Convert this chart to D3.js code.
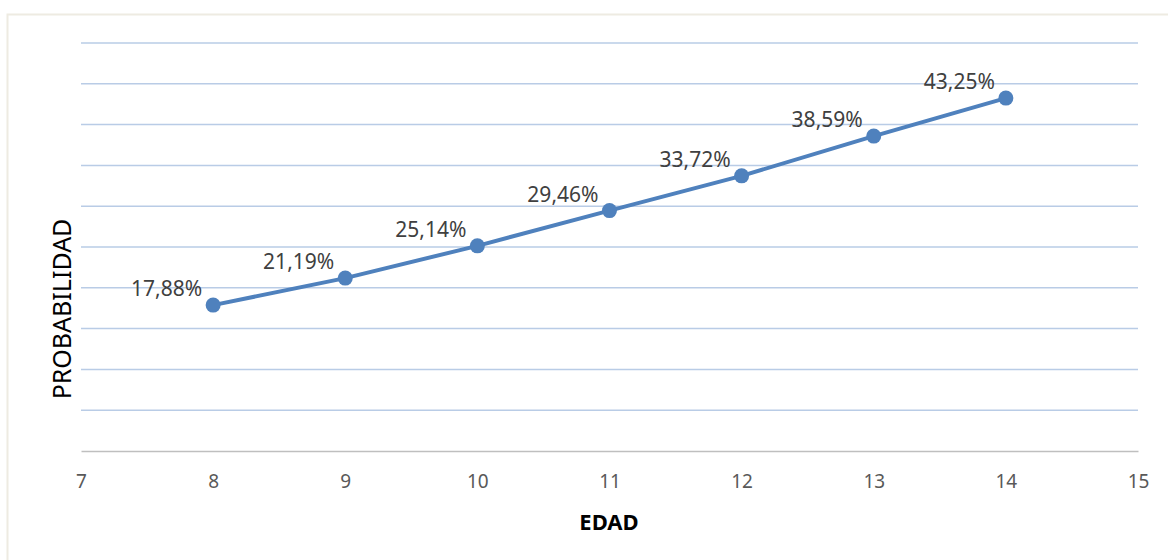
<!DOCTYPE html>
<html><head><meta charset="utf-8">
<script src="https://cdn.jsdelivr.net/npm/d3@7"></script>
<style>body{margin:0;background:#fff}svg{display:block}</style>
</head><body>
<script>
const ages = [8, 9, 10, 11, 12, 13, 14];
const probs = [0.1788, 0.2119, 0.2514, 0.2946, 0.3372, 0.3859, 0.4325];
const labels = ["17,88%", "21,19%", "25,14%", "29,46%", "33,72%", "38,59%", "43,25%"];
const xTicks = [7, 8, 9, 10, 11, 12, 13, 14, 15];
const yGrid = [0.05, 0.10, 0.15, 0.20, 0.25, 0.30, 0.35, 0.40, 0.45, 0.50];

const W = 1168, H = 560;
const svg = d3.select("body").append("svg").attr("width", W).attr("height", H);
const font = "'Noto Sans', 'Open Sans', sans-serif";

svg.append("rect").attr("x", 7.5).attr("y", 14.5).attr("width", W).attr("height", H)
  .attr("fill", "#fff").attr("stroke", "#EEEBE2").attr("stroke-width", 2);

const x = d3.scaleLinear().domain([7, 15]).range([81, 1138]);
const y = d3.scaleLinear().domain([0, 0.5]).range([451, 43]);

svg.append("g").selectAll("line").data(yGrid).join("line")
  .attr("x1", x(7)).attr("x2", x(15))
  .attr("y1", d => y(d)).attr("y2", d => y(d))
  .attr("stroke", "#B9CCE6").attr("stroke-width", 1.5);

const xAxis = svg.append("g").attr("transform", `translate(0,${y(0)})`)
  .call(d3.axisBottom(x).tickValues(xTicks).tickSize(0).tickPadding(24).tickFormat(d3.format("d")));
xAxis.select(".domain").attr("stroke", "#BFBFBF").attr("stroke-width", 1.5);
xAxis.selectAll("text").attr("fill", "#595959")
  .style("font-family", font).style("font-size", "19px");
xAxis.attr("font-family", null).attr("font-size", null);

const line = d3.line().x((d, i) => x(ages[i])).y(d => y(d));
svg.append("path").datum(probs).attr("d", line)
  .attr("fill", "none").attr("stroke", "#4F81BD").attr("stroke-width", 4).attr("stroke-linejoin", "round");

svg.append("g").selectAll("circle").data(probs).join("circle")
  .attr("cx", (d, i) => x(ages[i])).attr("cy", d => y(d)).attr("r", 7.5)
  .attr("fill", "#4F81BD");

svg.append("g").selectAll("text").data(probs).join("text")
  .attr("x", (d, i) => x(ages[i]) - 11).attr("y", d => y(d) - 9)
  .attr("text-anchor", "end").attr("fill", "#404040")
  .style("font-family", font).style("font-size", "21px")
  .text((d, i) => labels[i]);

svg.append("text").attr("x", 609).attr("y", 530).attr("text-anchor", "middle")
  .attr("fill", "#000").style("font-family", font).style("font-size", "22px").style("font-weight", "bold")
  .text("EDAD");

svg.append("text").attr("transform", "translate(71,309) rotate(-90)").attr("text-anchor", "middle")
  .attr("fill", "#000").style("font-family", font).style("font-size", "25px")
  .text("PROBABILIDAD");
</script>
</body></html>
